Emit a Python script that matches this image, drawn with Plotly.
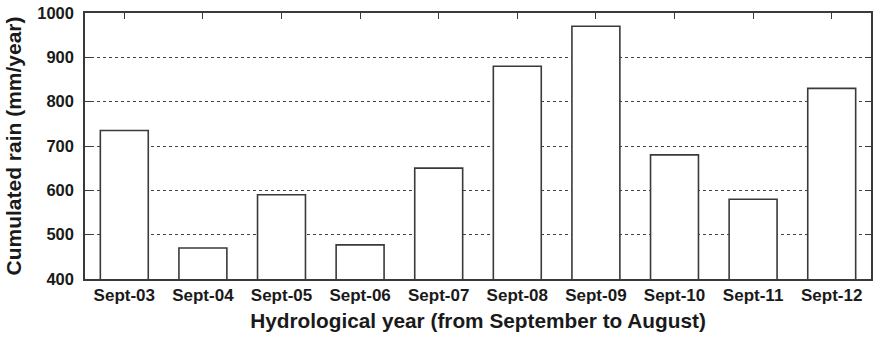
import plotly.graph_objects as go

years = ["Sept-03", "Sept-04", "Sept-05", "Sept-06", "Sept-07",
         "Sept-08", "Sept-09", "Sept-10", "Sept-11", "Sept-12"]
rain = [735, 470, 590, 477, 650, 880, 970, 680, 580, 830]
y_ticks = [400, 500, 600, 700, 800, 900, 1000]

FONT = "Liberation Sans, Arial, sans-serif"
LINE = "#3a3a3a"
TEXT = "#1a1a1a"

fig = go.Figure()
fig.add_trace(go.Bar(
    x=years, y=rain, width=0.61,
    marker=dict(color="white", line=dict(color=LINE, width=1.6)),
    hoverinfo="skip", showlegend=False,
))
# invisible helper trace for the top (mirrored) tick axis
fig.add_trace(go.Scatter(
    x=years, y=rain, xaxis="x2", mode="markers",
    marker=dict(opacity=0), hoverinfo="skip", showlegend=False,
))

fig.update_layout(
    width=874, height=338,
    margin=dict(l=85, r=1, t=13, b=59),
    paper_bgcolor="white", plot_bgcolor="white",
    font=dict(family=FONT, color=TEXT),
    bargap=0.39,
    xaxis=dict(
        type="category", categoryorder="array", categoryarray=years,
        range=[-0.5, 9.5],
        showline=True, linecolor=LINE, linewidth=1.5, mirror=True,
        ticks="", showgrid=False,
        tickfont=dict(family=FONT, size=17, weight="bold", color=TEXT),
        ticklabelstandoff=0,
        title=dict(text="Hydrological year (from September to August)",
                   font=dict(family=FONT, size=20.8, weight="bold", color=TEXT),
                   standoff=9),
    ),
    xaxis2=dict(
        type="category", categoryorder="array", categoryarray=years,
        range=[-0.5, 9.5], overlaying="x", side="top", matches="x",
        showline=False, showgrid=False, showticklabels=False,
        ticks="inside", ticklen=6, tickwidth=1.3, tickcolor=LINE,
    ),
    yaxis=dict(
        range=[400, 1000], tickvals=y_ticks,
        showline=True, linecolor=LINE, linewidth=1.5, mirror="ticks",
        ticks="inside", ticklen=6, tickwidth=1.3, tickcolor=LINE,
        showgrid=True, gridcolor="#444444", gridwidth=1, griddash="3px,3px",
        zeroline=False,
        tickfont=dict(family=FONT, size=16.5, weight="bold", color=TEXT),
        ticklabelstandoff=6,
        title=dict(text="Cumulated rain (mm/year)",
                   font=dict(family=FONT, size=21, weight="bold", color=TEXT),
                   standoff=10),
    ),
)

fig.write_html("out.html")
